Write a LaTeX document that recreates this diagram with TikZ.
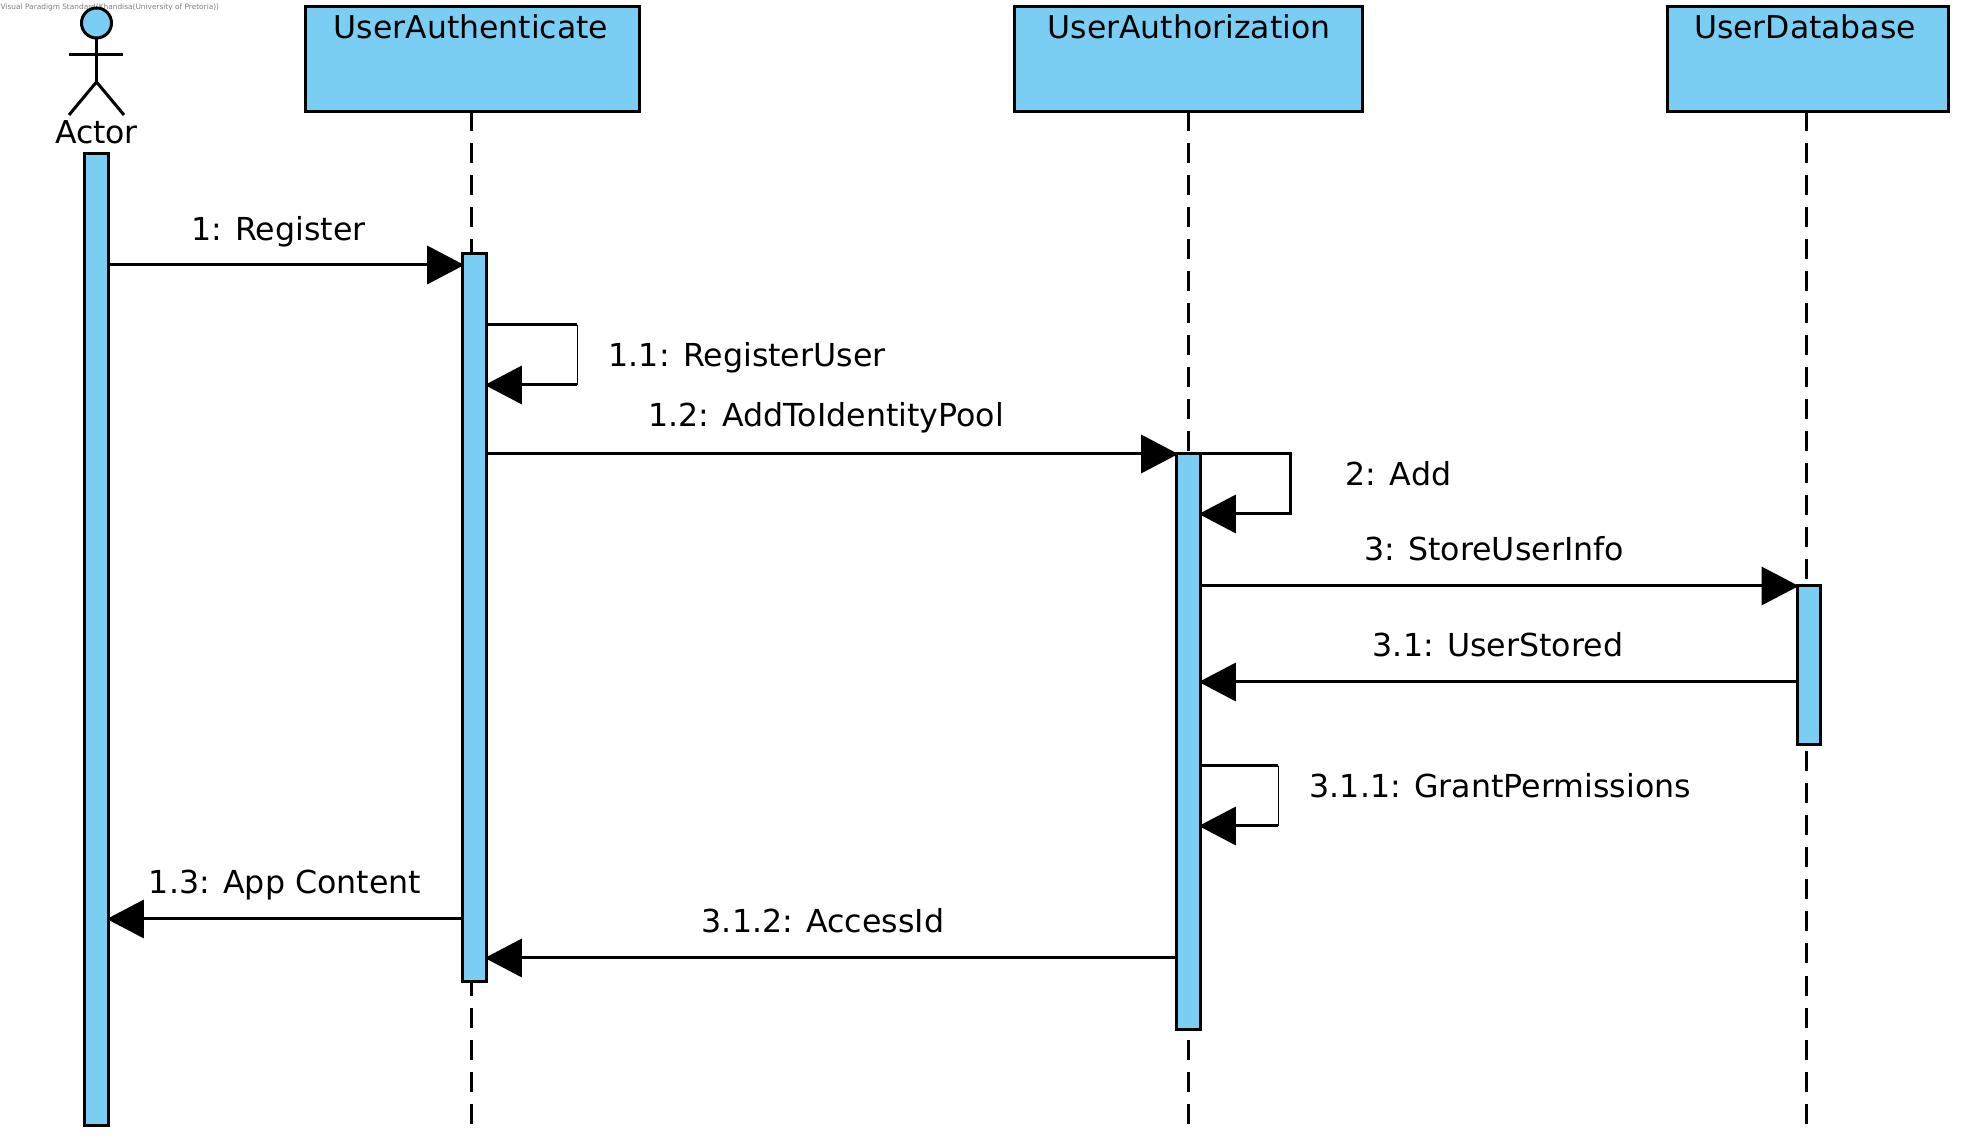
\documentclass[tikz,border=0pt]{standalone}
\usepackage{fontspec}
\setmainfont{DejaVu Sans}
\usetikzlibrary{arrows.meta}
\definecolor{barblue}{HTML}{7ACEF4}
\begin{document}
\begin{tikzpicture}[
  x=0.01cm, y=-0.01cm,
  head/.style={draw, line width=0.03cm, fill=barblue, inner sep=0pt, outer sep=0pt},
  bar/.style={draw, line width=0.03cm, fill=barblue, inner sep=0pt, outer sep=0pt, minimum width=0.235cm},
  title/.style={font=\fontsize{8.95}{10}\selectfont, anchor=base, inner sep=0pt},
  lbl/.style={font=\fontsize{9}{10}\selectfont, inner sep=0pt},
  lline/.style={line width=0.03cm, dash pattern=on 0.2cm off 0.12cm},
  line/.style={line width=0.03cm},
  msg/.style={line width=0.03cm, shorten >=-0.015cm, -{Triangle[length=0.37cm, width=0.38cm]}},
]
\useasboundingbox (0,-1) rectangle (1962,1139);
\fill[white] (0,-1) rectangle (1962,1139);

% --- Watermark ---
\node[font=\fontsize{2.1}{2}\selectfont, text=gray, anchor=west, inner sep=0pt] (mark) at (0,6) {Visual Paradigm Standard(Khandisa(University of Pretoria))};

% --- Lifelines ---
\node[head, minimum width=3.33cm, minimum height=1.04cm] (authbox) at (472.5,58) {};
\node[head, minimum width=3.47cm, minimum height=1.04cm] (authzbox) at (1188.5,58) {};
\node[head, minimum width=2.8cm, minimum height=1.04cm] (dbbox) at (1808,58) {};
\node[title] (authtitle) at (471,38) {UserAuthenticate};
\node[title] (authztitle) at (1189,38) {UserAuthorization};
\node[title] (dbtitle) at (1805,38) {UserDatabase};

\coordinate (authend) at (471.5,1125);
\coordinate (authzend) at (1188,1125);
\coordinate (dbend) at (1806,1125);
\draw[lline] (authbox.south -| authend) -- (authend);
\draw[lline] (authzbox.south -| authzend) -- (authzend);
\draw[lline] (dbbox.south -| dbend) -- (dbend);

% --- Actor ---
\node[head, circle, minimum size=0.3cm] (actorhead) at (96.5,22) {};
\coordinate (hip) at (96.5,81);
\draw[line] (actorhead.south) -- (hip);
\draw[line] (69,54) -- (123,54);
\draw[line] (69,114) -- (hip) -- (124,114);
\node[title] (actortitle) at (96.5,143) {Actor};

% --- Activation bars ---
\node[bar, minimum height=9.71cm] (actorbar) at (96.5,638.5) {};
\node[bar, minimum height=7.28cm] (authbar) at (474.5,616.5) {};
\node[bar, minimum height=5.75cm] (authzbar) at (1188.5,740.5) {};
\node[bar, minimum height=1.58cm] (dbbar) at (1809,664) {};

% --- Messages ---
\draw[msg] (actorbar.east |- 0,264) -- node[lbl, pos=0.48, yshift=0.335cm] (m1) {1: Register} (authbar.west |- 0,264);

\coordinate (s1a) at (577,324);
\coordinate (s1b) at (577,384);
\draw[line] (authbar.east |- s1a) -- (s1a);
\draw[very thin] (s1a) -- (s1b);
\draw[msg] (s1b) -- (authbar.east |- s1b);
\node[lbl, anchor=west] (m11) at (608,356.5) {1.1: RegisterUser};

\draw[msg] (authbar.east |- 0,453) -- (authzbar.west |- 0,453);
\node[lbl] (m12) at (826,416.5) {1.2: AddToIdentityPool};

\coordinate (s2a) at (1290,453);
\coordinate (s2b) at (1290,513);
\draw[msg] (authzbar.east |- s2a) -- (s2a) -- (s2b) -- (authzbar.east |- s2b);
\node[lbl, anchor=west] (m2) at (1345,473) {2: Add};

\draw[msg] (authzbar.east |- 0,585) -- (dbbar.west |- 0,585);
\node[lbl] (m3) at (1494,548) {3: StoreUserInfo};

\draw[msg] (dbbar.west |- 0,681) -- (authzbar.east |- 0,681);
\node[lbl] (m31) at (1498,644) {3.1: UserStored};

\coordinate (s3a) at (1278,765);
\coordinate (s3b) at (1278,825);
\draw[line] (authzbar.east |- s3a) -- (s3a);
\draw[very thin] (s3a) -- (s3b);
\draw[msg] (s3b) -- (authzbar.east |- s3b);
\node[lbl, anchor=west] (m311) at (1309,785) {3.1.1: GrantPermissions};

\draw[msg] (authbar.west |- 0,918) -- (actorbar.east |- 0,918);
\node[lbl] (m13) at (285,884.5) {1.3: App Content};

\draw[msg] (authzbar.west |- 0,957) -- (authbar.east |- 0,957);
\node[lbl] (m312) at (823,920) {3.1.2: AccessId};
\end{tikzpicture}
\end{document}
